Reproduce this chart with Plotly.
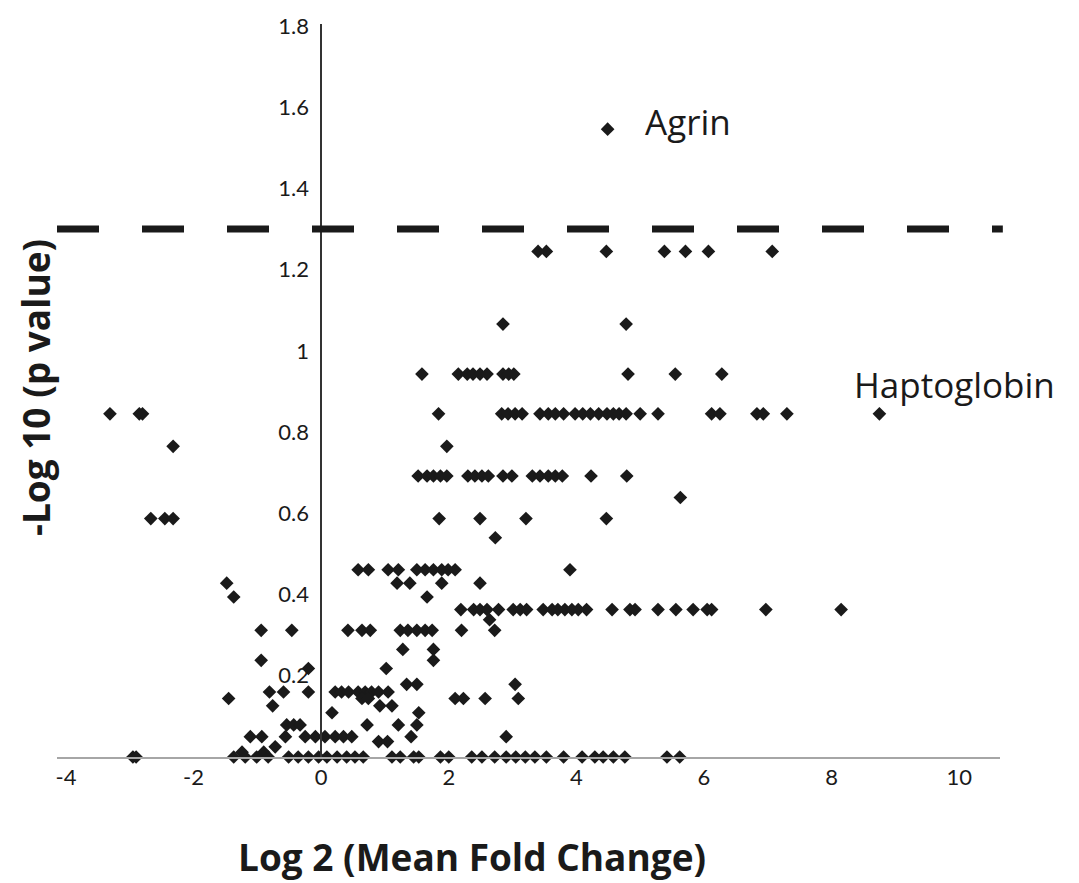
import plotly.graph_objects as go

# ---- data (log2 mean fold change, -log10 p value) ----
agrin_fc = [4.49]
agrin_p = [1.546]

row_levels = [1.245, 1.066, 0.943, 0.845, 0.765, 0.692, 0.639, 0.587, 0.540,
              0.461, 0.428, 0.394, 0.363, 0.338, 0.312, 0.265, 0.238, 0.218,
              0.179, 0.160, 0.144, 0.126, 0.109, 0.079, 0.050, 0.038, 0.025,
              0.012, 0.000]

row_fc = [
    [3.40, 3.53, 4.47, 5.38, 5.71, 6.07, 7.07],
    [2.85, 4.78],
    [1.58, 2.15, 2.29, 2.38, 2.49, 2.60, 2.85, 2.94, 3.02, 4.81, 5.55, 6.28],
    [-3.31, -2.85, -2.80, 1.84, 2.83, 2.93, 3.04, 3.15, 3.43, 3.56, 3.67, 3.80,
     3.98, 4.10, 4.22, 4.35, 4.48, 4.58, 4.67, 4.78, 5.00, 5.28, 6.12, 6.25,
     6.83, 6.93, 7.30, 8.75],
    [-2.32, 1.97],
    [1.52, 1.66, 1.76, 1.87, 1.97, 2.30, 2.41, 2.52, 2.62, 2.85, 2.99, 3.31,
     3.43, 3.56, 3.67, 3.78, 4.23, 4.79],
    [5.63],
    [-2.67, -2.45, -2.32, 1.85, 2.49, 3.21, 4.47],
    [2.73],
    [0.58, 0.74, 1.05, 1.21, 1.50, 1.63, 1.76, 1.89, 1.99, 2.10, 3.90],
    [-1.48, 1.19, 1.39, 1.89, 2.49],
    [-1.37, 1.66],
    [2.19, 2.39, 2.49, 2.60, 2.78, 3.01, 3.12, 3.22, 3.48, 3.62, 3.71, 3.82,
     3.93, 4.03, 4.16, 4.56, 4.84, 4.92, 5.28, 5.56, 5.83, 6.05, 6.12, 6.97,
     8.15],
    [2.64],
    [-0.94, -0.46, 0.42, 0.64, 0.77, 1.24, 1.36, 1.50, 1.63, 1.74, 2.20, 2.72],
    [1.28, 1.76],
    [-0.94, 1.76],
    [-0.20, 1.02],
    [1.34, 1.50, 3.04],
    [-0.81, -0.59, -0.20, 0.22, 0.32, 0.43, 0.58, 0.69, 0.79, 0.90, 1.05],
    [-1.45, 0.64, 0.74, 2.10, 2.23, 2.57, 3.09],
    [-0.76, 0.92, 1.11],
    [0.17, 1.53],
    [-0.54, -0.43, -0.33, 0.72, 1.21, 1.50],
    [-1.11, -0.93, -0.56, -0.25, -0.09, 0.06, 0.22, 0.35, 0.48, 1.41, 2.90],
    [0.90, 1.04],
    [-0.72],
    [-1.24, -0.90],
    [-2.95, -2.90, -1.37, -1.19, -1.01, -0.83, -0.51, -0.36, -0.20, -0.04,
     0.09, 0.25, 0.40, 0.53, 0.66, 1.11, 1.24, 1.45, 1.53, 1.87, 2.00, 2.36,
     2.52, 2.72, 2.90, 3.05, 3.20, 3.35, 3.53, 3.80, 4.09, 4.29, 4.42, 4.58,
     4.76, 5.42, 5.62],
]

threshold = 1.3
x_ticks = [-4, -2, 0, 2, 4, 6, 8, 10]
y_ticks = [0.2, 0.4, 0.6, 0.8, 1.0, 1.2, 1.4, 1.6, 1.8]
y_tick_text = ["0.2", "0.4", "0.6", "0.8", "1", "1.2", "1.4", "1.6", "1.8"]
x_range = [-4.14, 10.64]
y_range = [0, 1.805]

# ---- build table ----
fc, p = [], []
for lvl, xs in zip(row_levels, row_fc):
    fc.extend(xs)
    p.extend([lvl] * len(xs))
fc += agrin_fc
p += agrin_p

W, H = 1079, 883
ML, MR, MT, MB = 57, 79, 20, 126
PW, PH = W - ML - MR, H - MT - MB

fig = go.Figure()
fig.add_trace(go.Scatter(
    x=fc, y=p, mode="markers",
    marker=dict(symbol="diamond", size=10.5, color="#1a1a1a", line=dict(width=0)),
    hoverinfo="x+y", showlegend=False, cliponaxis=False,
))

fig.add_shape(type="line", xref="paper", yref="y", x0=0, x1=1.003,
              y0=threshold, y1=threshold,
              line=dict(color="#1a1a1a", width=7, dash="42px,43px"))

tick_font = dict(family="Lato, 'Open Sans', sans-serif", size=22, color="#1a1a1a")
fig.update_layout(
    width=W, height=H,
    margin=dict(l=ML, r=MR, t=MT, b=MB),
    paper_bgcolor="white", plot_bgcolor="white",
    xaxis=dict(range=x_range, tickvals=x_ticks, ticktext=[str(v) for v in x_ticks],
               showgrid=False, zeroline=False, showline=True,
               linecolor="#a6a6a6", linewidth=1.5, ticks="",
               tickfont=tick_font),
    yaxis=dict(range=y_range, tickvals=y_ticks, ticktext=y_tick_text,
               showgrid=False, zeroline=False, showline=True,
               linecolor="#333333", linewidth=1.5, ticks="",
               anchor="free", ticklabelstandoff=7,
               position=(0 - x_range[0]) / (x_range[1] - x_range[0]),
               tickfont=tick_font),
    font=dict(family="Lato, 'Open Sans', sans-serif"),
)

label_font = dict(family="'Open Sans', 'Noto Sans', sans-serif", size=35, color="#1a1a1a")
fig.add_annotation(x=5.05, y=1.565, text="Agrin", showarrow=False,
                   xanchor="left", yanchor="middle", font=label_font)
fig.add_annotation(x=8.32, y=0.918, text="Haptoglobin", showarrow=False,
                   xanchor="left", yanchor="middle", font=label_font)

title_font = dict(family="'Open Sans', Lato, sans-serif", size=37, color="#1a1a1a")
fig.add_annotation(xref="paper", yref="paper",
                   x=(472 - ML) / PW, y=-(857 - (H - MB)) / PH,
                   text="<b>Log 2 (Mean Fold Change)</b>", showarrow=False,
                   xanchor="center", yanchor="middle", font=title_font)
fig.add_annotation(xref="paper", yref="paper",
                   x=-(ML - 35) / PW, y=((H - MB) - 386) / PH,
                   text="<b>-Log 10 (p value)</b>", showarrow=False, textangle=-90,
                   xanchor="center", yanchor="middle", font=title_font)

fig.write_html("out.html", config={"displayModeBar": False},
               post_script="document.body.style.margin='0px';document.body.style.padding='0px';")
